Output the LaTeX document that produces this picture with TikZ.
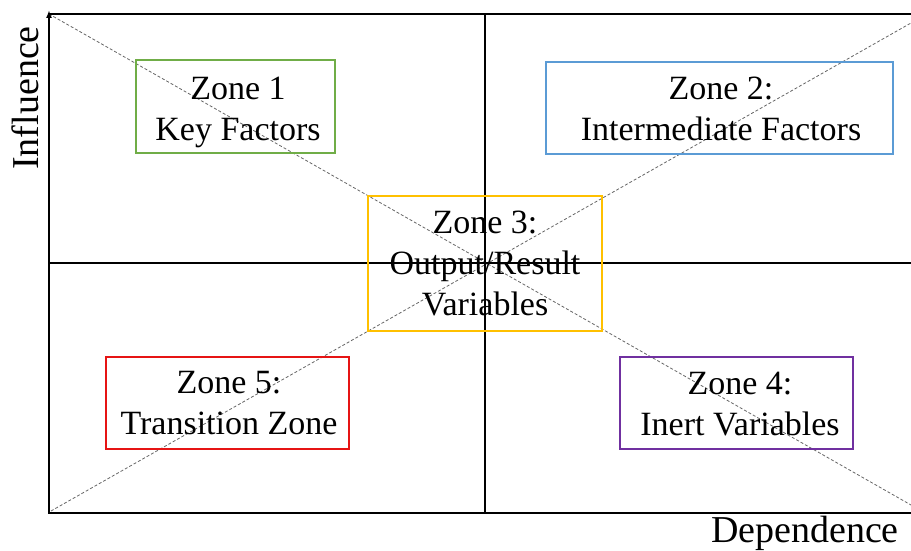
\documentclass[tikz,border=0pt]{standalone}
\usepackage{fontspec}
\setmainfont{Liberation Serif}
\usetikzlibrary{arrows.meta}
\definecolor{zgreen}{RGB}{112,173,71}
\definecolor{zblue}{RGB}{91,155,213}
\definecolor{zgold}{RGB}{255,192,0}
\definecolor{zred}{RGB}{230,20,20}
\definecolor{zpurple}{RGB}{112,48,160}
\tikzset{
  axisline/.style={line width=2pt, black},
  diag/.style={line width=0.8pt, gray!80!black, dash pattern=on 3pt off 2pt},
  zonebox/.style={draw=#1, line width=2pt, fill=none, inner sep=0pt},
  zonetext/.style={align=center, inner sep=0pt, anchor=north, font=\fontsize{34}{41}\selectfont},
  axislabel/.style={inner sep=0pt, font=\fontsize{38}{44}\selectfont}
}
\begin{document}
\begin{tikzpicture}[x=1pt,y=-1pt]
\useasboundingbox (0,0) rectangle (911,551);
% corners
\coordinate (BL) at (49,513);
\coordinate (TL) at (49,14);
\coordinate (TLa) at (49,10);
\coordinate (BR) at (911,513);
\coordinate (TR) at (911,14);
\coordinate (MT) at (485,14);
\coordinate (MB) at (485,513);
\coordinate (ML) at (48,263);
\coordinate (MR) at (911,263);
\coordinate (D1s) at (49,14);
\coordinate (D1e) at (911,505);
\coordinate (D2s) at (51,511);
\coordinate (D2e) at (911,23);
% diagonals
\draw[diag] (D1s) -- (D1e);
\draw[diag] (D2s) -- (D2e);
% frame and axes
\draw[axisline] (TL) -- (TR);
\draw[axisline] (MT) -- (MB);
\draw[axisline] (ML) -- (MR);
\draw[axisline] (48,513) -- (BR);
\draw[axisline, -{Latex[length=8pt,width=6pt]}] (BL) -- (TLa);
% zone boxes
\node[zonebox=zgreen, minimum width=199pt, minimum height=93pt] (z1) at (235.5,106.5) {};
\node[zonebox=zblue, minimum width=347pt, minimum height=92pt] (z2) at (719.5,108) {};
\node[zonebox=zgold, minimum width=234pt, minimum height=135pt] (z3) at (485,263.5) {};
\node[zonebox=zpurple, minimum width=233pt, minimum height=92pt] (z4) at (736.5,403) {};
\node[zonebox=zred, minimum width=243pt, minimum height=92pt] (z5) at (227.5,403) {};
% zone texts (north = first baseline - 28.7)
\node[zonetext] (t1) at (238,70.3) {\strut Zone 1\\\strut Key Factors};
\node[zonetext] (t2) at (721,70.8) {\strut Zone 2:\\\strut Intermediate Factors};
\node[zonetext] (t3) at (485,204.3) {\strut Zone 3:\\\strut Output/Result\\\strut Variables};
\node[zonetext] (t4) at (740,365.8) {\strut Zone 4:\\\strut Inert Variables};
\node[zonetext] (t5) at (229,364.8) {\strut Zone 5:\\\strut Transition Zone};
% axis labels
\node[axislabel, anchor=base east] (dep) at (899,542.5) {Dependence};
\node[axislabel, rotate=90, anchor=base] (inf) at (38,98) {Influence};
\end{tikzpicture}
\end{document}
